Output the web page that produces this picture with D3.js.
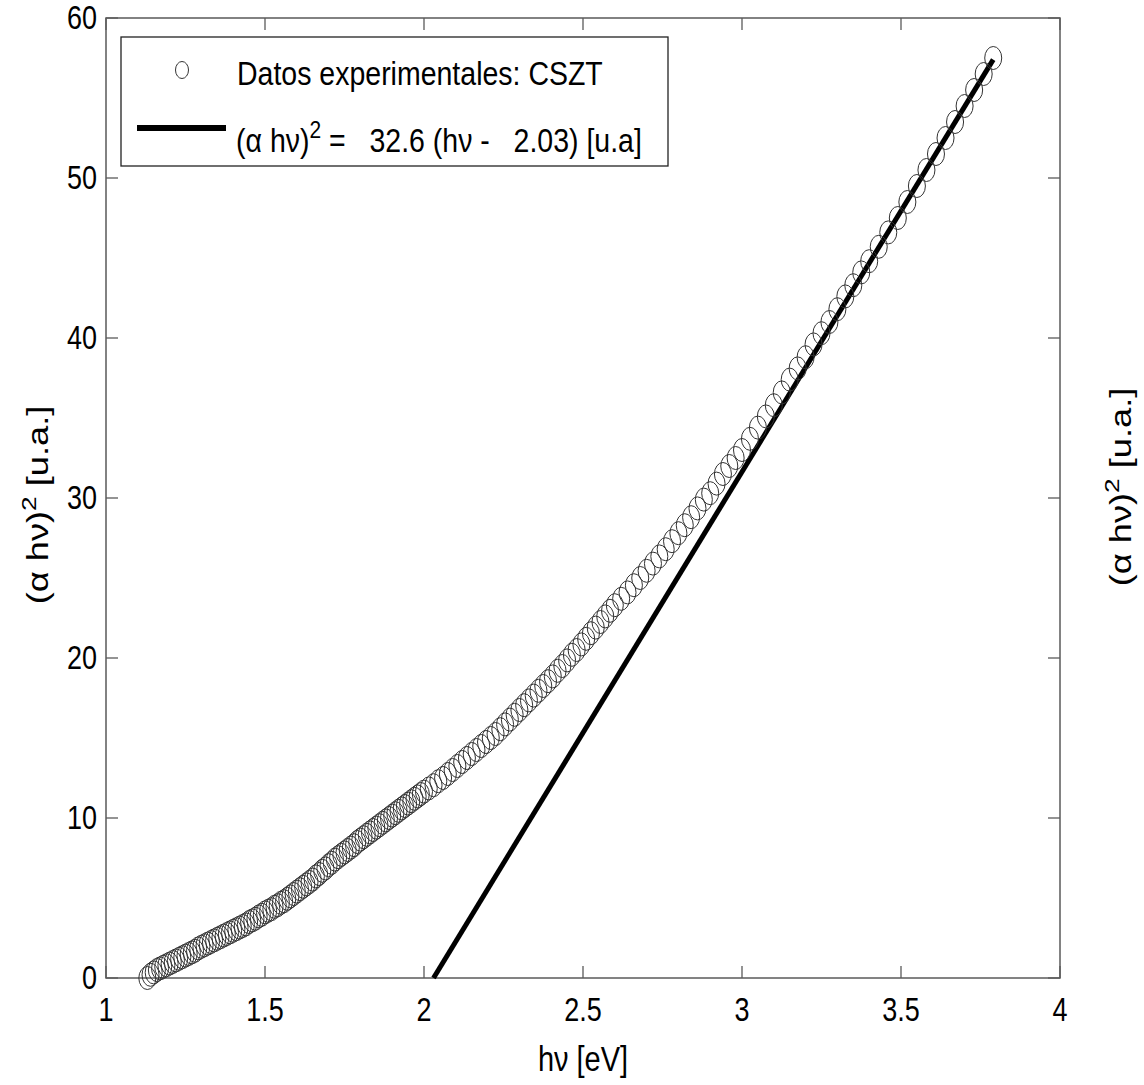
<!DOCTYPE html>
<html>
<head>
<meta charset="utf-8">
<script src="https://cdn.jsdelivr.net/npm/d3@7"></script>
<style>
  body { margin: 0; background: #fff; }
  text { font-family: "Liberation Sans", Arial, sans-serif; fill: #000; }
</style>
</head>
<body>
<div id="chart"></div>
<script>
// experimental points: photon energy (eV) and (alpha h nu)^2 (u.a.)
const hv = [
  1.13, 1.14, 1.15, 1.16, 1.17, 1.18, 1.19, 1.20, 1.21, 1.22, 1.23, 1.24, 1.25, 1.26, 1.27, 1.28, 1.29,
  1.30, 1.31, 1.32, 1.33, 1.34, 1.35, 1.36, 1.37, 1.38, 1.39, 1.40, 1.41, 1.42, 1.43, 1.44, 1.45, 1.46,
  1.47, 1.48, 1.49, 1.50, 1.51, 1.52, 1.53, 1.54, 1.55, 1.56, 1.57, 1.58, 1.59, 1.60, 1.61, 1.62, 1.63,
  1.64, 1.65, 1.66, 1.67, 1.68, 1.69, 1.70, 1.71, 1.72, 1.73, 1.74, 1.75, 1.76, 1.77, 1.78, 1.79, 1.80,
  1.81, 1.82, 1.83, 1.84, 1.85, 1.86, 1.87, 1.88, 1.89, 1.90, 1.91, 1.92, 1.93, 1.94, 1.95, 1.96, 1.97,
  1.98, 1.99, 2.00,
  2.015, 2.03, 2.045, 2.06, 2.075, 2.09, 2.105, 2.12, 2.135, 2.15, 2.165, 2.18, 2.195, 2.21, 2.225,
  2.24, 2.255, 2.27, 2.285, 2.30, 2.315, 2.33, 2.345, 2.36, 2.375, 2.39, 2.405, 2.42, 2.435, 2.45,
  2.465, 2.48, 2.495, 2.51, 2.525, 2.54, 2.555, 2.57, 2.585, 2.60,
  2.62, 2.64, 2.66, 2.68, 2.70, 2.72, 2.74, 2.76, 2.78, 2.80, 2.82, 2.84, 2.86, 2.88, 2.90, 2.92,
  2.94, 2.96, 2.98, 3.00,
  3.025, 3.05, 3.075, 3.10, 3.125, 3.15, 3.175, 3.20, 3.225, 3.25, 3.275, 3.30, 3.325, 3.35, 3.375,
  3.40, 3.43, 3.46, 3.49, 3.52, 3.55, 3.58, 3.61, 3.64, 3.67, 3.70, 3.73, 3.76, 3.79
];
const ahv2 = [
  0.0, 0.2, 0.35, 0.5, 0.6, 0.7, 0.8, 0.9, 1.0, 1.1, 1.2, 1.3, 1.4, 1.5, 1.6, 1.7, 1.85,
  1.95, 2.05, 2.15, 2.25, 2.35, 2.45, 2.55, 2.65, 2.75, 2.85, 2.95, 3.05, 3.15, 3.25, 3.35, 3.5, 3.6,
  3.7, 3.85, 3.95, 4.1, 4.2, 4.3, 4.45, 4.55, 4.7, 4.8, 4.95, 5.1, 5.25, 5.4, 5.55, 5.7, 5.85,
  6.0, 6.15, 6.35, 6.5, 6.7, 6.85, 7.05, 7.2, 7.4, 7.55, 7.7, 7.85, 8.0, 8.15, 8.3, 8.5, 8.65,
  8.8, 8.95, 9.1, 9.25, 9.4, 9.55, 9.7, 9.85, 10.0, 10.15, 10.3, 10.45, 10.6, 10.75, 10.9, 11.05, 11.2,
  11.35, 11.5, 11.65,
  11.85, 12.05, 12.3, 12.5, 12.75, 13.0, 13.25, 13.5, 13.75, 14.0, 14.25, 14.5, 14.75, 15.0, 15.25,
  15.55, 15.85, 16.15, 16.45, 16.75, 17.05, 17.35, 17.65, 17.95, 18.25, 18.55, 18.85, 19.2, 19.5, 19.85,
  20.2, 20.5, 20.85, 21.2, 21.55, 21.9, 22.25, 22.6, 22.95, 23.3,
  23.7, 24.1, 24.55, 25.0, 25.45, 25.9, 26.35, 26.8, 27.3, 27.8, 28.3, 28.8, 29.35, 29.9, 30.3, 30.9,
  31.5, 32.0, 32.5, 33.0,
  33.7, 34.4, 35.1, 35.8, 36.6, 37.4, 38.1, 38.8, 39.6, 40.3, 41.0, 41.8, 42.6, 43.3, 44.1,
  44.8, 45.7, 46.6, 47.5, 48.5, 49.5, 50.5, 51.5, 52.5, 53.5, 54.5, 55.5, 56.5, 57.5
];

// linear fit (alpha h nu)^2 = 32.6 (h nu - 2.03)
const fitHv = [2.03, 3.79];
const fitVal = [0, 57.4];

const xTicks = [1, 1.5, 2, 2.5, 3, 3.5, 4];
const yTicks = [0, 10, 20, 30, 40, 50, 60];

const W = 1144, H = 1085;
const plotL = 106, plotR = 1060, plotT = 18, plotB = 978;
const tickLen = 12;
const axisColor = "#5a5a5a";
const textScale = 1.2;

const svg = d3.select("#chart").append("svg")
    .attr("width", W)
    .attr("height", H);

const x = d3.scaleLinear().domain([1, 4]).range([plotL, plotR]);
const y = d3.scaleLinear().domain([0, 60]).range([plotB, plotT]);

// frame
svg.append("rect")
    .attr("x", plotL).attr("y", plotT)
    .attr("width", plotR - plotL).attr("height", plotB - plotT)
    .attr("fill", "none")
    .attr("stroke", axisColor)
    .attr("stroke-width", 1.5);

// inward ticks on all four sides
const ticks = svg.append("g").attr("stroke", axisColor).attr("stroke-width", 1.3);
xTicks.forEach(t => {
  ticks.append("line").attr("x1", x(t)).attr("x2", x(t)).attr("y1", plotB).attr("y2", plotB - tickLen);
  ticks.append("line").attr("x1", x(t)).attr("x2", x(t)).attr("y1", plotT).attr("y2", plotT + tickLen);
});
yTicks.forEach(t => {
  ticks.append("line").attr("x1", plotL).attr("x2", plotL + tickLen).attr("y1", y(t)).attr("y2", y(t));
  ticks.append("line").attr("x1", plotR).attr("x2", plotR - tickLen).attr("y1", y(t)).attr("y2", y(t));
});

// tick labels
svg.append("g").selectAll("text")
    .data(xTicks)
    .join("text")
    .attr("transform", d => `translate(${x(d)},${plotB + 43}) scale(1,${textScale})`)
    .attr("text-anchor", "middle")
    .attr("font-size", 27)
    .text(d => d);

svg.append("g").selectAll("text")
    .data(yTicks)
    .join("text")
    .attr("transform", d => `translate(${plotL - 9},${y(d) + 11}) scale(1,${textScale})`)
    .attr("text-anchor", "end")
    .attr("font-size", 27)
    .text(d => d);

// axis titles
svg.append("text")
    .attr("transform", `translate(${(plotL + plotR) / 2},${H - 14}) scale(1,${textScale})`)
    .attr("text-anchor", "middle")
    .attr("font-size", 29)
    .text("hν [eV]");

function yTitle(cx, cy) {
  const t = svg.append("text")
      .attr("transform", `translate(${cx},${cy}) rotate(-90) scale(1.25,1)`)
      .attr("text-anchor", "middle")
      .attr("font-size", 29);
  t.append("tspan").text("(α hν)");
  t.append("tspan").attr("dy", -12).attr("font-size", 21).text("2");
  t.append("tspan").attr("dy", 12).text(" [u.a.]");
}
yTitle(48, 505);
yTitle(1131, 487);

// fitted line
svg.append("path")
    .datum(d3.zip(fitHv, fitVal))
    .attr("fill", "none")
    .attr("stroke", "#000")
    .attr("stroke-width", 5)
    .attr("d", d3.line().x(d => x(d[0])).y(d => y(d[1])));

// experimental markers
svg.append("g").selectAll("ellipse")
    .data(d3.zip(hv, ahv2))
    .join("ellipse")
    .attr("cx", d => x(d[0]))
    .attr("cy", d => y(d[1]))
    .attr("rx", 8.5)
    .attr("ry", 11.5)
    .attr("fill", "none")
    .attr("stroke", "#333")
    .attr("stroke-width", 1);

// legend
const lg = svg.append("g");
lg.append("rect")
    .attr("x", 121).attr("y", 37)
    .attr("width", 547).attr("height", 129)
    .attr("fill", "#fff")
    .attr("stroke", "#222")
    .attr("stroke-width", 1.3);
lg.append("ellipse")
    .attr("cx", 182).attr("cy", 70)
    .attr("rx", 6.5).attr("ry", 8.5)
    .attr("fill", "none").attr("stroke", "#333").attr("stroke-width", 1);
lg.append("text")
    .attr("transform", `translate(237,85) scale(1,1.15)`)
    .attr("font-size", 28.5)
    .text("Datos experimentales: CSZT");
lg.append("line")
    .attr("x1", 137).attr("x2", 226)
    .attr("y1", 128).attr("y2", 128)
    .attr("stroke", "#000").attr("stroke-width", 6);
const lt = lg.append("text")
    .attr("transform", `translate(236,152) scale(1,1.15)`)
    .attr("font-size", 28.5)
    .style("white-space", "pre");
lt.append("tspan").text("(α hν)");
lt.append("tspan").attr("dy", -12).attr("font-size", 21).text("2");
lt.append("tspan").attr("dy", 12).text(" =   32.6 (hν -   2.03) [u.a]");
</script>
</body>
</html>
